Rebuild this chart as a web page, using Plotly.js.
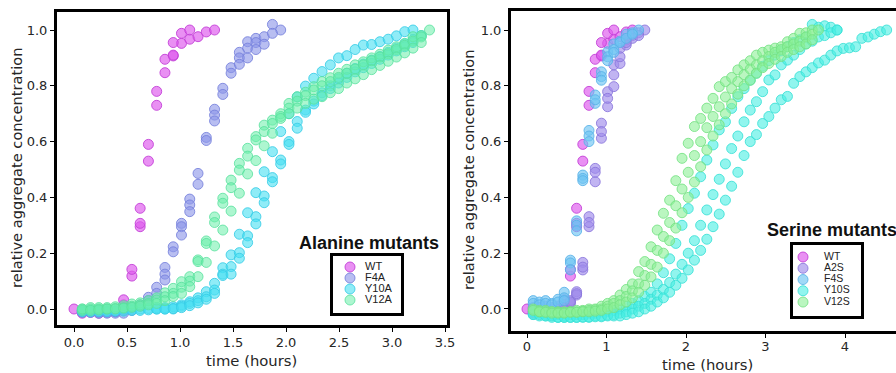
<!DOCTYPE html>
<html>
<head>
<meta charset="utf-8">
<script src="https://cdn.plot.ly/plotly-3.0.1.min.js"></script>
<style>
html,body{margin:0;padding:0;overflow:hidden;background:#fff;}
#chart{width:910px;height:373px;}
</style>
</head>
<body>
<div id="chart"></div>
<script>
// ---- time grid (hours), one entry per measurement step ----
const T = [0, 0.078, 0.156, 0.234, 0.312, 0.39, 0.468, 0.546, 0.624, 0.702, 0.78, 0.858, 0.936, 1.014, 1.092, 1.17, 1.248, 1.326, 1.404, 1.482, 1.56, 1.638, 1.716, 1.794, 1.872, 1.95, 2.028, 2.106, 2.184, 2.262, 2.34, 2.418, 2.496, 2.574, 2.652, 2.73, 2.808, 2.886, 2.964, 3.042, 3.12, 3.198, 3.276, 3.354, 3.432, 3.51, 3.588, 3.666, 3.744, 3.822, 3.9, 3.978, 4.056, 4.134, 4.212, 4.29, 4.368, 4.446, 4.524];
const _ = null;

// ---- WT (shown in both panels) ----
const wt_r1 = [0, -0.015, -0.012, -0.015, -0.012, -0.01, 0.015, 0.118, 0.295, 0.53, 0.73, 0.847, 0.907, 0.952, 0.967, 0.976, 0.993, 1.0];
const wt_r2 = [_, -0.01, _, -0.008, _, _, 0.033, 0.142, 0.307, 0.59, 0.78, 0.895, 0.955, 0.988, 1.0];
const wt_r3 = [_, _, _, _, _, _, _, _, 0.361, _, _, _, 0.91];

// ---- Alanine mutants ----
const f4a_r1 = [_, -0.012, -0.012, -0.015, -0.015, -0.015, -0.015, -0.005, 0.01, 0.042, 0.078, 0.149, 0.223, 0.307, 0.394, 0.486, 0.615, 0.716, 0.791, 0.865, 0.92, 0.958, 0.97, 0.976, 1.02, 1.0];
const f4a_r2 = [_, -0.005, _, -0.01, -0.008, -0.01, -0.005, 0.005, 0.015, 0.03, 0.056, 0.125, 0.205, 0.295, 0.373, 0.447, 0.604, 0.695, 0.769, 0.845, 0.9, 0.935, 0.955, 0.949, 0.988];
const f4a_r3 = [_, _, _, _, _, _, 0.0, _, _, _, _, 0.104, _, 0.265, 0.349, _, _, 0.674, _, _, 0.877, 0.9, 0.93];

const y10a_r1 = [_, -0.005, -0.005, -0.005, -0.005, -0.005, 0.0, 0.0, 0.0, 0.002, 0.005, 0.005, 0.008, 0.015, 0.026, 0.04, 0.062, 0.092, 0.148, 0.194, 0.268, 0.345, 0.417, 0.492, 0.564, 0.636, 0.7, 0.76, 0.799, 0.827, 0.851, 0.875, 0.9, 0.908, 0.93, 0.946, 0.948, 0.958, 0.967, 0.979, 0.994, 1.0];
const y10a_r2 = [_, -0.01, -0.01, -0.01, -0.01, -0.008, -0.008, -0.005, -0.005, -0.003, 0.0, 0.0, 0.0, 0.01, 0.02, 0.03, 0.044, 0.068, 0.125, 0.152, 0.202, 0.262, 0.331, 0.405, 0.471, 0.534, 0.6, 0.672, 0.713, 0.745, 0.775, 0.8, 0.825, 0.845, 0.862, 0.878, 0.892, 0.905, 0.92, 0.935, 0.95, 0.965, 0.98];
const y10a_r3 = [_, _, _, _, _, _, _, _, _, _, 0.0, 0.0, 0.002, 0.005, 0.012, 0.022, 0.035, 0.056, 0.12, 0.125, 0.182, 0.238, 0.305, 0.381, 0.456, 0.52, 0.59, 0.648, 0.705, 0.735, 0.765, 0.79, 0.81, 0.83, 0.85, 0.865, 0.88, 0.895, 0.91, 0.925, 0.94, 0.955];

const v12a_r1 = [_, 0.0, 0.005, 0.005, 0.005, 0.008, 0.012, 0.018, 0.022, 0.03, 0.04, 0.058, 0.074, 0.098, 0.116, 0.176, 0.244, 0.33, 0.397, 0.462, 0.522, 0.576, 0.618, 0.659, 0.677, 0.7, 0.737, 0.761, 0.777, 0.797, 0.815, 0.829, 0.845, 0.859, 0.875, 0.886, 0.9, 0.913, 0.928, 0.94, 0.952, 0.976, 0.98, 1.0];
const v12a_r2 = [_, -0.005, 0.0, 0.0, 0.0, 0.002, 0.005, 0.01, 0.015, 0.02, 0.032, 0.044, 0.056, 0.078, 0.1, 0.17, 0.235, 0.31, 0.379, 0.435, 0.498, 0.548, 0.606, 0.636, 0.665, 0.69, 0.72, 0.745, 0.765, 0.785, 0.8, 0.815, 0.83, 0.845, 0.86, 0.875, 0.89, 0.903, 0.915, 0.93, 0.945, 0.96, 0.975];
const v12a_r3 = [_, 0.0, -0.005, -0.003, 0.0, 0.0, 0.003, 0.006, 0.01, 0.015, 0.02, 0.03, 0.045, 0.056, 0.08, 0.116, 0.167, 0.226, 0.283, 0.351, 0.415, 0.484, 0.532, 0.585, 0.63, 0.683, 0.7, 0.72, 0.737, 0.752, 0.761, 0.775, 0.79, 0.81, 0.825, 0.84, 0.858, 0.873, 0.888, 0.903, 0.918, 0.935, 0.955];

// ---- Serine mutants ----
const a2s_r1 = [_, 0.0, -0.005, 0.0, 0.0, 0.005, 0.01, 0.02, 0.062, 0.167, 0.331, 0.504, 0.666, 0.779, 0.875, 0.934, 0.964, 0.98, 0.99, 1.0];
const a2s_r2 = [_, 0.005, 0.005, 0.01, 0.005, 0.01, 0.015, 0.03, 0.05, 0.14, 0.295, 0.456, 0.612, 0.725, 0.797, 0.88, 0.946, 0.97, 0.98];
const a2s_r3 = [_, _, _, _, _, _, _, 0.025, 0.055, 0.15, 0.31, 0.49, 0.636, 0.755, 0.839, 0.904, 0.955];

const f4s_r1 = [_, 0.03, 0.025, 0.03, 0.02, 0.035, 0.06, 0.175, 0.316, 0.48, 0.64, 0.767, 0.85, 0.922, 0.95, 0.96, 0.985, 0.99, 1.0];
const f4s_r2 = [_, 0.02, 0.015, 0.02, 0.015, 0.025, 0.04, 0.165, 0.3, 0.468, 0.62, 0.737, 0.833, 0.904, 0.93, 0.955, 0.97, 0.985];
const f4s_r3 = [_, _, _, _, _, _, 0.03, 0.14, 0.28, 0.46, 0.6, 0.75, 0.82, 0.89, 0.92];

const y10s_r1 = [_, -0.01, -0.015, -0.02, -0.02, -0.02, -0.025, -0.02, -0.02, -0.02, -0.015, -0.015, -0.01, -0.008, -0.005, 0.0, 0.01, 0.02, 0.03, 0.045, 0.06, 0.09, 0.13, 0.18, 0.235, 0.3, 0.36, 0.415, 0.474, 0.534, 0.588, 0.642, 0.671, 0.719, 0.761, 0.79, 0.82, 0.845, 0.87, 0.89, 0.91, 0.925, 0.94, 0.955, 0.965, 0.975, 1.02, 1.01, 1.015, 1.01, 1.0];
const y10s_r2 = [_, -0.02, -0.025, -0.025, -0.03, -0.03, -0.03, -0.03, -0.03, -0.028, -0.028, -0.025, -0.025, -0.022, -0.02, -0.015, -0.01, 0.0, 0.01, 0.02, 0.035, 0.05, 0.07, 0.095, 0.125, 0.16, 0.2, 0.245, 0.3, 0.355, 0.41, 0.465, 0.52, 0.575, 0.62, 0.671, 0.713, 0.743, 0.779, 0.821, 0.839, 0.875, 0.892, 0.91, 0.93, 0.95, 0.96, 0.975, 0.98, 0.99, 1.0];
const y10s_r3 = [_, -0.02, -0.02, -0.025, -0.025, -0.03, -0.03, -0.03, -0.03, -0.03, -0.03, -0.028, -0.028, -0.025, -0.025, -0.025, -0.02, -0.015, -0.01, 0.0, 0.01, 0.025, 0.04, 0.06, 0.085, 0.11, 0.14, 0.175, 0.21, 0.25, 0.295, 0.34, 0.39, 0.44, 0.49, 0.55, 0.6, 0.625, 0.665, 0.69, 0.72, 0.75, 0.762, 0.809, 0.833, 0.85, 0.865, 0.882, 0.892, 0.91, 0.925, 0.934, 0.936, 0.94, 0.97, 0.975, 0.985, 0.994, 1.0];

const v12s_r1 = [_, 0.0, -0.005, -0.005, -0.01, -0.01, -0.01, -0.01, -0.005, -0.005, 0.0, 0.0, 0.01, 0.02, 0.03, 0.05, 0.07, 0.09, 0.134, 0.17, 0.223, 0.283, 0.343, 0.39, 0.46, 0.54, 0.594, 0.654, 0.683, 0.72, 0.755, 0.797, 0.815, 0.83, 0.857, 0.875, 0.89, 0.91, 0.92, 0.928, 0.935, 0.94, 0.958, 0.97, 0.988, 0.99, 1.0];
const v12s_r2 = [_, -0.005, -0.01, -0.01, -0.01, -0.012, -0.012, -0.01, -0.01, -0.008, -0.005, -0.003, 0.0, 0.01, 0.02, 0.03, 0.045, 0.065, 0.09, 0.12, 0.16, 0.21, 0.26, 0.31, 0.37, 0.43, 0.49, 0.55, 0.6, 0.65, 0.69, 0.725, 0.76, 0.79, 0.815, 0.84, 0.86, 0.875, 0.89, 0.905, 0.92, 0.93, 0.94, 0.95, 0.96, 0.975, 0.985, 1.0];
const v12s_r3 = [_, _, -0.01, -0.012, -0.015, -0.015, -0.015, -0.012, -0.012, -0.01, -0.01, -0.008, -0.005, 0.0, 0.005, 0.015, 0.025, 0.04, 0.06, 0.085, 0.115, 0.15, 0.2, 0.245, 0.29, 0.345, 0.4, 0.455, 0.51, 0.57, 0.62, 0.66, 0.7, 0.735, 0.77, 0.8, 0.82, 0.845, 0.865, 0.88, 0.895, 0.905, 0.92, 0.93, 0.94, 0.95, 0.965];

// ---- names / labels ----
const alanineNames = ["WT", "F4A", "Y10A", "V12A"];
const serineNames = ["WT", "A2S", "F4S", "Y10S", "V12S"];
const xTicksLeft = [0, 0.5, 1, 1.5, 2, 2.5, 3, 3.5];
const xTicksRight = [0, 1, 2, 3, 4];
const yTicks = [0, 0.2, 0.4, 0.6, 0.8, 1.0];

// ---- styles ----
const styles = {
  "WT":   {fill: "rgba(222,92,238,0.68)",  line: "rgba(195,65,215,0.9)"},
  "F4A":  {fill: "rgba(140,150,232,0.62)", line: "rgba(118,128,220,0.85)"},
  "Y10A": {fill: "rgba(70,224,242,0.6)",   line: "rgba(55,205,230,0.85)"},
  "V12A": {fill: "rgba(105,238,170,0.55)", line: "rgba(88,225,158,0.8)"},
  "A2S":  {fill: "rgba(160,140,235,0.65)", line: "rgba(138,118,220,0.85)"},
  "F4S":  {fill: "rgba(110,196,242,0.65)", line: "rgba(88,178,232,0.85)"},
  "Y10S": {fill: "rgba(72,238,226,0.6)",   line: "rgba(58,224,214,0.85)"},
  "V12S": {fill: "rgba(140,240,150,0.6)",  line: "rgba(118,226,132,0.85)"}
};

function collect(reps) {
  const x = [], y = [];
  reps.forEach(r => r.forEach((v, k) => { if (v !== null && v !== undefined) { x.push(T[k]); y.push(v); } }));
  return {x, y};
}
function scatter(name, reps, xa, ya) {
  const d = collect(reps);
  const s = styles[name];
  return {type: "scatter", mode: "markers", name, x: d.x, y: d.y, xaxis: xa, yaxis: ya,
    marker: {size: 10, color: s.fill, line: {color: s.line, width: 1}}, hoverinfo: "skip"};
}

const traces = [
  scatter("WT", [wt_r1, wt_r2, wt_r3], "x", "y"),
  scatter("F4A", [f4a_r1, f4a_r2, f4a_r3], "x", "y"),
  scatter("Y10A", [y10a_r1, y10a_r2, y10a_r3], "x", "y"),
  scatter("V12A", [v12a_r1, v12a_r2, v12a_r3], "x", "y"),
  scatter("WT", [wt_r1, wt_r2, wt_r3], "x2", "y2"),
  scatter("A2S", [a2s_r1, a2s_r2, a2s_r3], "x2", "y2"),
  scatter("F4S", [f4s_r1, f4s_r2, f4s_r3], "x2", "y2"),
  scatter("Y10S", [y10s_r1, y10s_r2, y10s_r3], "x2", "y2"),
  scatter("V12S", [v12s_r1, v12s_r2, v12s_r3], "x2", "y2")
];

// legend panels drawn as small subplots (marker + label per series)
function legendTraces(names, xa, ya, fontSize) {
  return [
    {type: "scatter", mode: "markers", x: names.map(() => 0), y: names, xaxis: xa, yaxis: ya,
     marker: {size: 10, color: names.map(n => styles[n].fill), line: {color: names.map(n => styles[n].line), width: 1}},
     hoverinfo: "skip"},
    {type: "scatter", mode: "text", x: names.map(() => 1), y: names, xaxis: xa, yaxis: ya,
     text: names, textposition: "middle right",
     textfont: {family: "Liberation Sans, Arial, sans-serif", size: fontSize, color: "#222"}, hoverinfo: "skip"}
  ];
}
traces.push(...legendTraces(alanineNames, "x3", "y3", 11));
traces.push(...legendTraces(serineNames, "x4", "y4", 10.5));

const W = 910, H = 373;
const px = v => v / W;
const py = v => 1 - v / H;

const tickFont = {family: "DejaVu Sans, sans-serif", size: 13, color: "#262626"};
const baseAxis = {showgrid: false, zeroline: false, showline: true, mirror: true, linewidth: 3, linecolor: "#000",
  ticks: "outside", ticklen: 4, tickwidth: 1, tickcolor: "#000", tickfont: tickFont, fixedrange: true};
const legAxis = {showgrid: false, zeroline: false, showline: true, mirror: true, linewidth: 3, linecolor: "#000",
  showticklabels: false, ticks: "", fixedrange: true};
const titleFont = {family: "DejaVu Sans, sans-serif", size: 14.6, color: "#262626"};

function note(text, x, y, extra) {
  return Object.assign({text, xref: "paper", yref: "paper", x: px(x), y: py(y),
    xanchor: "center", yanchor: "middle", showarrow: false, font: titleFont}, extra || {});
}

const layout = {
  width: W, height: H, margin: {l: 0, r: 0, t: 0, b: 0},
  paper_bgcolor: "#fff", plot_bgcolor: "#fff", showlegend: false,
  xaxis: Object.assign({}, baseAxis, {domain: [px(57), px(447)], range: [-0.1604, 3.5189],
    tickvals: xTicksLeft, tickformat: ".1f", anchor: "y", ticklabelstandoff: -1}),
  yaxis: Object.assign({}, baseAxis, {domain: [py(325), py(12)], range: [-0.0573, 1.0645],
    tickvals: yTicks, tickformat: ".1f", anchor: "x"}),
  xaxis2: Object.assign({}, baseAxis, {domain: [px(511), px(905)], range: [-0.2013, 4.7547],
    tickvals: xTicksRight, tickformat: "d", anchor: "y2", ticklabelstandoff: -3}),
  yaxis2: Object.assign({}, baseAxis, {domain: [py(331), py(11)], range: [-0.0789, 1.0681],
    tickvals: yTicks, tickformat: ".1f", anchor: "x2"}),
  xaxis3: Object.assign({}, legAxis, {domain: [px(333), px(401)], range: [-1.133, 3.4], anchor: "y3"}),
  yaxis3: Object.assign({}, legAxis, {domain: [py(313), py(256)], type: "category",
    categoryarray: alanineNames, range: [4.18, -1], anchor: "x3"}),
  xaxis4: Object.assign({}, legAxis, {domain: [px(793), px(861)], range: [-0.476, 2.762], anchor: "y4"}),
  yaxis4: Object.assign({}, legAxis, {domain: [py(316), py(245)], type: "category",
    categoryarray: serineNames, range: [5.24, -1.067], anchor: "x4"}),
  annotations: [
    note("relative aggregate concentration", 16, 168, {textangle: -90}),
    note("time (hours)", 251, 360, {font: Object.assign({}, titleFont, {size: 14.8})}),
    note("relative aggregate concentration", 468, 170, {textangle: -90}),
    note("time (hours)", 707, 364, {font: Object.assign({}, titleFont, {size: 14.8})}),
    note("<b>Alanine mutants</b>", 369, 243, {font: {family: "Liberation Sans, Arial, sans-serif", size: 18, color: "#111"}}),
    note("<b>Serine mutants</b>", 765, 230, {xanchor: "left", font: {family: "Liberation Sans, Arial, sans-serif", size: 18, color: "#111"}})
  ]
};

Plotly.newPlot("chart", traces, layout, {staticPlot: true, displayModeBar: false});
</script>
</body>
</html>
